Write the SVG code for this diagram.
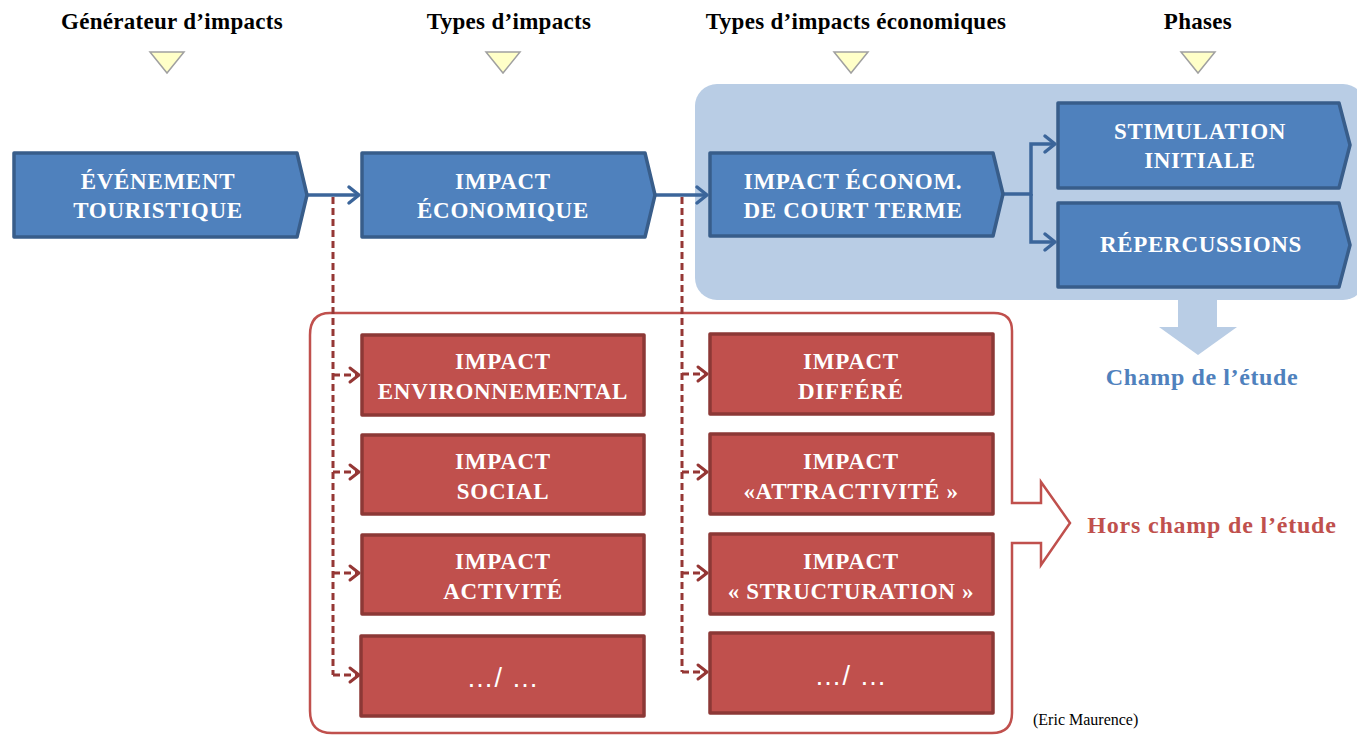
<svg xmlns="http://www.w3.org/2000/svg" width="1357" height="735" viewBox="0 0 1357 735">
<defs>
<style>
.hdr{font-family:"Liberation Serif","Times New Roman",serif;font-weight:bold;font-size:23px;letter-spacing:0.3px;fill:#000;text-anchor:middle}
.tri{fill:#FFFFC8;stroke:#A0A0A0;stroke-width:1.5}
.bbox{fill:#4F81BD;stroke:#385D8A;stroke-width:3.5;stroke-linejoin:round}
.rbox{fill:#C0504D;stroke:#8C3836;stroke-width:3.5;stroke-linejoin:round}
.t{font-family:"Liberation Serif","Times New Roman",serif;font-weight:bold;font-size:23px;letter-spacing:0.7px;fill:#fff;text-anchor:middle}
.dots{font-family:"Liberation Sans",Arial,sans-serif;font-size:27px;letter-spacing:1px;fill:#fff;text-anchor:middle}
.blue{fill:none;stroke:#3B659A;stroke-width:3.5}
.red{fill:none;stroke:#953735;stroke-width:3;stroke-dasharray:7 4}
</style>
<marker id="ab" markerUnits="userSpaceOnUse" markerWidth="16" markerHeight="22" refX="13" refY="11" orient="auto" viewBox="0 0 16 22">
<path d="M3,3 L13,11 L3,19" fill="none" stroke="#3B659A" stroke-width="3.5" stroke-linecap="round" stroke-linejoin="round"/>
</marker>
<marker id="ar" markerUnits="userSpaceOnUse" markerWidth="16" markerHeight="20" refX="13" refY="10" orient="auto" viewBox="0 0 16 20">
<path d="M4,3 L13,10 L4,17" fill="none" stroke="#953735" stroke-width="3" stroke-linecap="round" stroke-linejoin="round"/>
</marker>
</defs>
<rect width="1357" height="735" fill="#fff"/>

<g id="headers">
<text class="hdr" x="172" y="29">Générateur d’impacts</text>
<text class="hdr" x="509" y="29">Types d’impacts</text>
<text class="hdr" x="856" y="29">Types d’impacts économiques</text>
<text class="hdr" x="1198" y="29">Phases</text>
<polygon class="tri" points="150,52 184,52 167,73"/>
<polygon class="tri" points="486,52 520,52 503,73"/>
<polygon class="tri" points="834,52 868,52 851,73"/>
<polygon class="tri" points="1181,52 1215,52 1198,73"/>
</g>

<g id="scope-panel">
<rect x="695" y="84" width="670" height="216" rx="22" fill="#B9CDE5"/>
<polygon points="1178,299 1217,299 1217,327 1237,327 1198,355 1159,327 1178,327" fill="#B9CDE5"/>
<text x="1202" y="385" font-family="Liberation Serif,Times New Roman,serif" font-weight="bold" font-size="24" letter-spacing="0.6" fill="#4F81BD" text-anchor="middle">Champ de l’étude</text>
</g>

<g id="out-scope">
<path d="M330,313 H994 Q1012,313 1012,331 V503 H1041 V482 L1070,523 L1041,565 V543 H1012 V713 Q1012,733 992,733 H332 Q310,733 310,711 V335 Q310,313 330,313 Z" fill="none" stroke="#C0504D" stroke-width="2.5" stroke-linejoin="miter"/>
<text x="1212" y="533" font-family="Liberation Serif,Times New Roman,serif" font-weight="bold" font-size="24" letter-spacing="0.8" fill="#C0504D" text-anchor="middle">Hors champ de l’étude</text>
</g>

<g id="connectors">
<path class="blue" d="M307,195 H359" marker-end="url(#ab)"/>
<path class="blue" d="M655,195 H707" marker-end="url(#ab)"/>
<path class="blue" d="M1003,194 H1031 V144 H1055" marker-end="url(#ab)"/>
<path class="blue" d="M1031,194 V242 H1055" marker-end="url(#ab)"/>
<path class="red" d="M333,197 V675"/>
<path class="red" d="M333,375 H359" marker-end="url(#ar)"/>
<path class="red" d="M333,472 H359" marker-end="url(#ar)"/>
<path class="red" d="M333,573 H359" marker-end="url(#ar)"/>
<path class="red" d="M333,675 H359" marker-end="url(#ar)"/>
<path class="red" d="M682,197 V672"/>
<path class="red" d="M682,374 H707" marker-end="url(#ar)"/>
<path class="red" d="M682,472 H707" marker-end="url(#ar)"/>
<path class="red" d="M682,573 H707" marker-end="url(#ar)"/>
<path class="red" d="M682,672 H707" marker-end="url(#ar)"/>
</g>

<g id="n-evenement">
<path class="bbox" d="M14,153 H297 L307,195 L297,237 H14 Z"/>
<text class="t" x="158" y="189">ÉVÉNEMENT</text>
<text class="t" x="158" y="218">TOURISTIQUE</text>
</g>
<g id="n-impact-eco">
<path class="bbox" d="M362,153 H645 L655,195 L645,237 H362 Z"/>
<text class="t" x="503" y="189">IMPACT</text>
<text class="t" x="503" y="218">ÉCONOMIQUE</text>
</g>
<g id="n-court-terme">
<path class="bbox" d="M710,153 H993 L1003,194 L993,236 H710 Z"/>
<text class="t" x="853" y="189">IMPACT ÉCONOM.</text>
<text class="t" x="853" y="218">DE COURT TERME</text>
</g>
<g id="n-stimulation">
<path class="bbox" d="M1058,103 H1339 L1350,145 L1339,188 H1058 Z"/>
<text class="t" x="1200" y="139">STIMULATION</text>
<text class="t" x="1200" y="168">INITIALE</text>
</g>
<g id="n-repercussions">
<path class="bbox" d="M1058,203 H1339 L1350,245 L1339,287 H1058 Z"/>
<text class="t" x="1201" y="252">RÉPERCUSSIONS</text>
</g>

<g id="n-env">
<rect class="rbox" x="362" y="335" width="282" height="80"/>
<text class="t" x="503" y="369">IMPACT</text>
<text class="t" x="503" y="399">ENVIRONNEMENTAL</text>
</g>
<g id="n-social">
<rect class="rbox" x="362" y="435" width="282" height="79"/>
<text class="t" x="503" y="469">IMPACT</text>
<text class="t" x="503" y="499">SOCIAL</text>
</g>
<g id="n-activite">
<rect class="rbox" x="362" y="535" width="282" height="79"/>
<text class="t" x="503" y="569">IMPACT</text>
<text class="t" x="503" y="599">ACTIVITÉ</text>
</g>
<g id="n-etc1">
<rect class="rbox" x="361" y="636" width="283" height="80"/>
<text class="dots" x="503" y="687">…/ …</text>
</g>

<g id="n-differe">
<rect class="rbox" x="710" y="334" width="283" height="80"/>
<text class="t" x="851" y="369">IMPACT</text>
<text class="t" x="851" y="399">DIFFÉRÉ</text>
</g>
<g id="n-attractivite">
<rect class="rbox" x="710" y="434" width="283" height="80"/>
<text class="t" x="851" y="469">IMPACT</text>
<text class="t" x="851" y="499">«ATTRACTIVITÉ »</text>
</g>
<g id="n-structuration">
<rect class="rbox" x="710" y="534" width="283" height="80"/>
<text class="t" x="851" y="569">IMPACT</text>
<text class="t" x="851" y="599">« STRUCTURATION »</text>
</g>
<g id="n-etc2">
<rect class="rbox" x="710" y="633" width="283" height="80"/>
<text class="dots" x="851" y="685">…/ …</text>
</g>

<text x="1033" y="725" font-family="Liberation Serif,Times New Roman,serif" font-size="16" fill="#000">(Eric Maurence)</text>
</svg>
